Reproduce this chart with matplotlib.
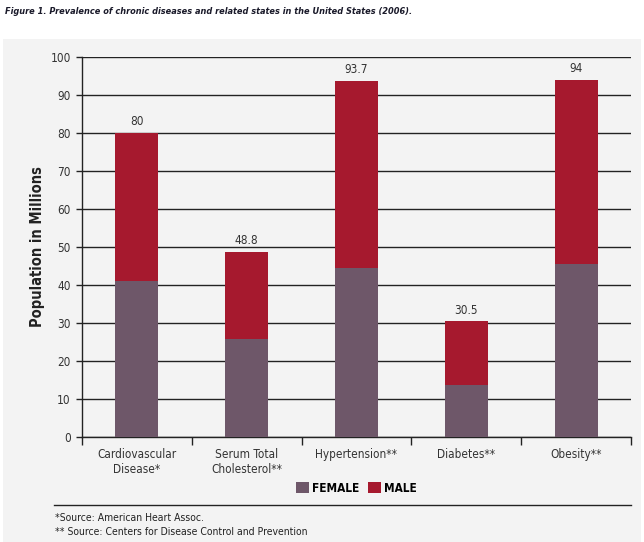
import matplotlib.pyplot as plt
from matplotlib.patches import Rectangle
from matplotlib.lines import Line2D

plt.rcParams['font.family'] = ['DejaVu Sans']
plt.rcParams['font.stretch'] = 'condensed'

categories = ["Cardiovascular\nDisease*", "Serum Total\nCholesterol**", "Hypertension**",
              "Diabetes**", "Obesity**"]
female = [41.0, 25.8, 44.5, 13.7, 45.5]
male = [39.0, 23.0, 49.2, 16.8, 48.5]
totals = ["80", "48.8", "93.7", "30.5", "94"]
yticks = [0, 10, 20, 30, 40, 50, 60, 70, 80, 90, 100]

female_color = "#6e5769"
male_color = "#a6192e"

fig = plt.figure(figsize=(6.44, 5.42), dpi=100)
fig.patch.set_facecolor("white")
# light gray panel behind the chart
fig.patches.append(Rectangle((0.004, 0), 0.992, 1 - 39 / 542, transform=fig.transFigure,
                             facecolor="#f3f3f3", edgecolor="none", zorder=-5))

ax = fig.add_axes([82 / 644, 1 - 437 / 542, (631 - 82) / 644, (437 - 57) / 542])
ax.set_facecolor("none")
ax.set_zorder(2)

x = list(range(len(categories)))
ax.bar(x, female, width=0.39, color=female_color, label="FEMALE", zorder=3)
ax.bar(x, male, width=0.39, bottom=female, color=male_color, label="MALE", zorder=3)

for i, t in enumerate(totals):
    ax.text(x[i], female[i] + male[i] + 1.2, t, ha="center", va="bottom",
            fontsize=8.5, color="#333333")

ax.set_ylim(0, 100)
ax.set_xlim(-0.5, len(categories) - 0.5)
ax.set_yticks(yticks)
ax.yaxis.grid(True, color="#222222", linewidth=1.0, zorder=1)
ax.set_axisbelow(True)

# ticks on the x axis sit between categories, labels under bars
ax.set_xticks([i - 0.5 for i in range(len(categories) + 1)])
ax.set_xticklabels([])
ax.set_xticks(x, minor=True)
ax.set_xticklabels(categories, minor=True, fontsize=8.5, color="#333333")
ax.tick_params(axis="x", which="minor", length=0, pad=8)
ax.tick_params(axis="x", which="major", length=6, width=1, color="#222222", direction="out")
ax.tick_params(axis="y", length=4, width=1, color="#222222", labelsize=8.5,
               labelcolor="#333333", pad=4)

for side in ["top", "right"]:
    ax.spines[side].set_visible(False)
for side in ["left", "bottom"]:
    ax.spines[side].set_color("#222222")
    ax.spines[side].set_linewidth(1.0)

ax.set_ylabel("Population in Millions", fontsize=10.5, fontweight="bold", color="#222222",
              labelpad=4)

ax.legend(loc="upper center", bbox_to_anchor=(0.5, -0.09), ncol=2, frameon=False,
          prop={"weight": "bold", "size": 8.5, "stretch": "condensed"}, handlelength=1.1,
          handleheight=1.1, handletextpad=0.2, columnspacing=0.8)

fig.text(5 / 644, 1 - 12 / 542, "Figure 1. Prevalence of chronic diseases and related states in the United States (2006).",
         fontsize=6.6, fontweight="bold", fontstyle="italic", color="#1a1a2a", va="center")

fig.lines.append(Line2D([54 / 644, 631 / 644], [1 - 505 / 542, 1 - 505 / 542],
                        transform=fig.transFigure, color="#222222", linewidth=1))
fig.text(55 / 644, 1 - 518 / 542, "*Source: American Heart Assoc.", fontsize=7.5,
         color="#222222", va="center")
fig.text(55 / 644, 1 - 532 / 542, "** Source: Centers for Disease Control and Prevention",
         fontsize=7.5, color="#222222", va="center")

fig.savefig("out.png", dpi=100)
